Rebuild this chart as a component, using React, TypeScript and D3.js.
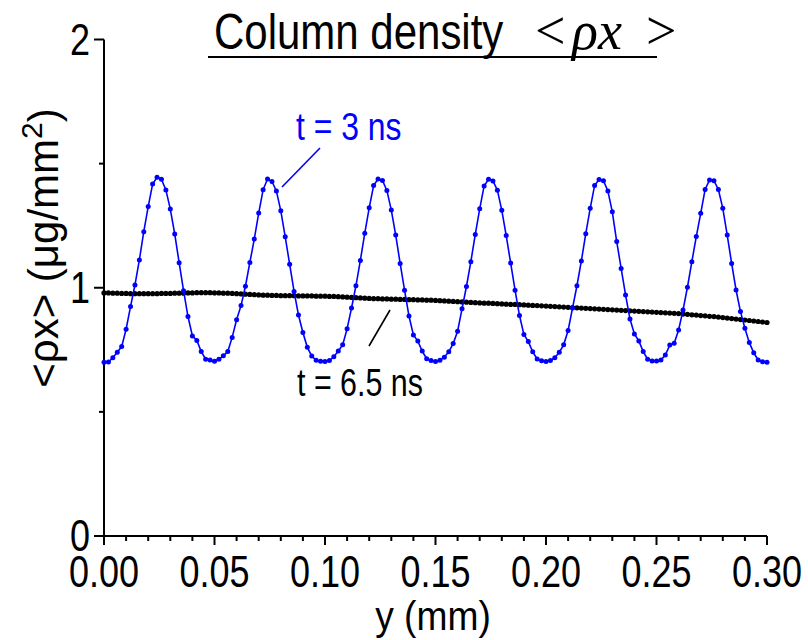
import React from "react";
import * as d3 from "d3";

// x sampling step (mm) for both series
const STEP = 0.002;

// t = 3 ns column density (µg/mm²), sampled every 0.002 mm from 0 to 0.30
const blue3ns: number[] = [
  0.700, 0.701, 0.718, 0.740, 0.763, 0.833, 0.924, 1.011, 1.112, 1.226, 1.327, 1.418, 1.445, 1.437, 1.394, 1.317, 1.217, 1.101, 0.988, 0.884, 0.806, 0.788, 0.743, 0.712, 0.709,
  0.704, 0.712, 0.726, 0.743, 0.800, 0.871, 0.928, 1.006, 1.102, 1.196, 1.301, 1.395, 1.438, 1.428, 1.390, 1.310, 1.205, 1.095, 0.985, 0.890, 0.820, 0.760, 0.725, 0.708, 0.704,
  0.703, 0.707, 0.722, 0.745, 0.770, 0.835, 0.918, 1.008, 1.110, 1.220, 1.322, 1.412, 1.438, 1.432, 1.392, 1.313, 1.212, 1.098, 0.990, 0.886, 0.810, 0.785, 0.745, 0.714, 0.707,
  0.703, 0.708, 0.720, 0.742, 0.775, 0.825, 0.915, 1.005, 1.105, 1.215, 1.318, 1.410, 1.437, 1.430, 1.393, 1.312, 1.210, 1.100, 0.990, 0.888, 0.812, 0.783, 0.742, 0.713, 0.706,
  0.703, 0.707, 0.718, 0.740, 0.770, 0.828, 0.918, 1.008, 1.108, 1.218, 1.320, 1.412, 1.436, 1.431, 1.390, 1.306, 1.186, 1.078, 0.971, 0.874, 0.814, 0.786, 0.743, 0.712, 0.705,
  0.705, 0.709, 0.729, 0.769, 0.776, 0.830, 0.910, 1.002, 1.105, 1.206, 1.300, 1.396, 1.434, 1.431, 1.396, 1.320, 1.212, 1.098, 0.991, 0.904, 0.837, 0.779, 0.738, 0.709, 0.702,
  0.700,
];

// t = 6.5 ns column density (µg/mm²), same sampling
const black65ns: number[] = [
  0.979, 0.979, 0.978, 0.978, 0.977, 0.977, 0.976, 0.976, 0.976, 0.976,
  0.976, 0.976, 0.976, 0.977, 0.977, 0.977, 0.978, 0.978, 0.978, 0.979,
  0.979, 0.980, 0.980, 0.980, 0.980, 0.979, 0.979, 0.978, 0.978, 0.977,
  0.976, 0.975, 0.974, 0.973, 0.972, 0.971, 0.970, 0.970, 0.969, 0.969,
  0.968, 0.968, 0.968, 0.968, 0.967, 0.967, 0.967, 0.967, 0.966, 0.966,
  0.966, 0.965, 0.965, 0.964, 0.963, 0.962, 0.961, 0.960, 0.959, 0.958,
  0.957, 0.956, 0.956, 0.955, 0.955, 0.954, 0.954, 0.953, 0.953, 0.952,
  0.952, 0.951, 0.951, 0.950, 0.950, 0.949, 0.948, 0.947, 0.946, 0.945,
  0.944, 0.943, 0.942, 0.941, 0.940, 0.939, 0.938, 0.938, 0.937, 0.936,
  0.935, 0.934, 0.933, 0.933, 0.932, 0.931, 0.930, 0.929, 0.928, 0.927,
  0.926, 0.925, 0.924, 0.923, 0.922, 0.921, 0.920, 0.919, 0.918, 0.917,
  0.916, 0.915, 0.914, 0.913, 0.912, 0.911, 0.910, 0.909, 0.908, 0.907,
  0.906, 0.905, 0.904, 0.903, 0.902, 0.901, 0.900, 0.899, 0.898, 0.897,
  0.896, 0.894, 0.893, 0.891, 0.890, 0.888, 0.887, 0.885, 0.884, 0.882,
  0.880, 0.878, 0.876, 0.874, 0.872, 0.870, 0.868, 0.866, 0.864, 0.862, 0.860,
];

const xMajorTicks = [0, 0.05, 0.1, 0.15, 0.2, 0.25, 0.3];
const xMinorTicks = [0.01, 0.02, 0.03, 0.04, 0.06, 0.07, 0.08, 0.09, 0.11, 0.12, 0.13, 0.14, 0.16, 0.17, 0.18, 0.19, 0.21, 0.22, 0.23, 0.24, 0.26, 0.27, 0.28, 0.29];
const yMajorTicks = [0, 1, 2];
const yMinorTicks = [0.5, 1.5];

const SANS = "'Liberation Sans', Arial, sans-serif";
const SERIF = "'Liberation Serif', 'Times New Roman', serif";
const BLUE = "#0000ff";

// condensed text (horizontal squeeze to imitate a narrow sans face)
function NText(props: {
  x: number;
  y: number;
  size: number;
  sx: number;
  anchor?: string;
  fill?: string;
  dy?: string;
  children: React.ReactNode;
}) {
  const { x, y, size, sx, anchor = "start", fill = "#000", dy, children } = props;
  return (
    <text
      transform={`translate(${x},${y}) scale(${sx},1)`}
      textAnchor={anchor}
      fontFamily={SANS}
      fontSize={size}
      fill={fill}
      dy={dy}
    >
      {children}
    </text>
  );
}

export default function App() {
  const x = d3.scaleLinear().domain([0, 0.3]).range([104, 767]);
  const y = d3.scaleLinear().domain([0, 2]).range([536, 39.5]);

  const blueData = blue3ns.map((v, i) => [i * STEP, v] as [number, number]);
  const blackData = black65ns.map((v, i) => [i * STEP, v] as [number, number]);
  const line = d3
    .line<[number, number]>()
    .x((d) => x(d[0]))
    .y((d) => y(d[1]));

  return (
    <svg
      width={808}
      height={640}
      style={{ position: "absolute", left: 0, top: 0, background: "#fff" }}
    >
      {/* title */}
      <NText x={214} y={49} size={50} sx={0.84}>
        Column density
      </NText>
      <text y={49} fontFamily={SERIF} fontSize={54} fill="#000">
        <tspan x={535}>{"<"}</tspan>
        <tspan x={572} fontStyle="italic">ρx</tspan>
        <tspan x={646}>{">"}</tspan>
      </text>
      <line x1={208} x2={657} y1={57} y2={57} stroke="#000" strokeWidth={2} />

      {/* axes */}
      <line x1={x(0)} x2={x(0)} y1={y(2)} y2={y(0)} stroke="#000" strokeWidth={2} />
      <line x1={x(0)} x2={x(0.3)} y1={y(0)} y2={y(0)} stroke="#000" strokeWidth={2} />
      {yMajorTicks.map((t) => (
        <g key={"ym" + t}>
          <line x1={x(0) - 10} x2={x(0)} y1={y(t)} y2={y(t)} stroke="#000" strokeWidth={2} />
          <NText x={90} y={y(t)} dy="0.34em" anchor="end" size={45} sx={0.8}>
            {t}
          </NText>
        </g>
      ))}
      {yMinorTicks.map((t) => (
        <line key={"yn" + t} x1={x(0) - 5} x2={x(0)} y1={y(t)} y2={y(t)} stroke="#000" strokeWidth={2} />
      ))}
      {xMajorTicks.map((t) => (
        <g key={"xm" + t}>
          <line x1={x(t)} x2={x(t)} y1={y(0)} y2={y(0) + 9} stroke="#000" strokeWidth={2} />
          <NText x={x(t)} y={587} anchor="middle" size={45} sx={0.8}>
            {t.toFixed(2)}
          </NText>
        </g>
      ))}
      {xMinorTicks.map((t) => (
        <line key={"xn" + t} x1={x(t)} x2={x(t)} y1={y(0)} y2={y(0) + 5} stroke="#000" strokeWidth={2} />
      ))}

      {/* axis labels */}
      <NText x={433} y={630} anchor="middle" size={40} sx={0.93}>
        y (mm)
      </NText>
      <text
        transform="translate(58,248) rotate(-90)"
        textAnchor="middle"
        fontFamily={SANS}
        fontSize={42}
      >
        {"<ρx> (μg/mm"}
        <tspan dy={-16} fontSize={30}>2</tspan>
        <tspan dy={16}>)</tspan>
      </text>

      {/* series */}
      <path d={line(blackData) || ""} fill="none" stroke="#000" strokeWidth={2.2} />
      {blackData.map((d, i) => (
        <circle key={"k" + i} cx={x(d[0])} cy={y(d[1])} r={2.6} fill="#000" />
      ))}
      <path d={line(blueData) || ""} fill="none" stroke={BLUE} strokeWidth={1.6} />
      {blueData.map((d, i) => (
        <circle key={"b" + i} cx={x(d[0])} cy={y(d[1])} r={2.5} fill={BLUE} />
      ))}

      {/* annotations */}
      <NText x={296} y={140} size={38} sx={0.84} fill={BLUE}>
        t = 3 ns
      </NText>
      <line x1={282} y1={187} x2={320} y2={148} stroke={BLUE} strokeWidth={1.6} />
      <NText x={297} y={396} size={38} sx={0.8}>
        t = 6.5 ns
      </NText>
      <line x1={369} y1={346} x2={390} y2={310} stroke="#000" strokeWidth={1.6} />
    </svg>
  );
}
